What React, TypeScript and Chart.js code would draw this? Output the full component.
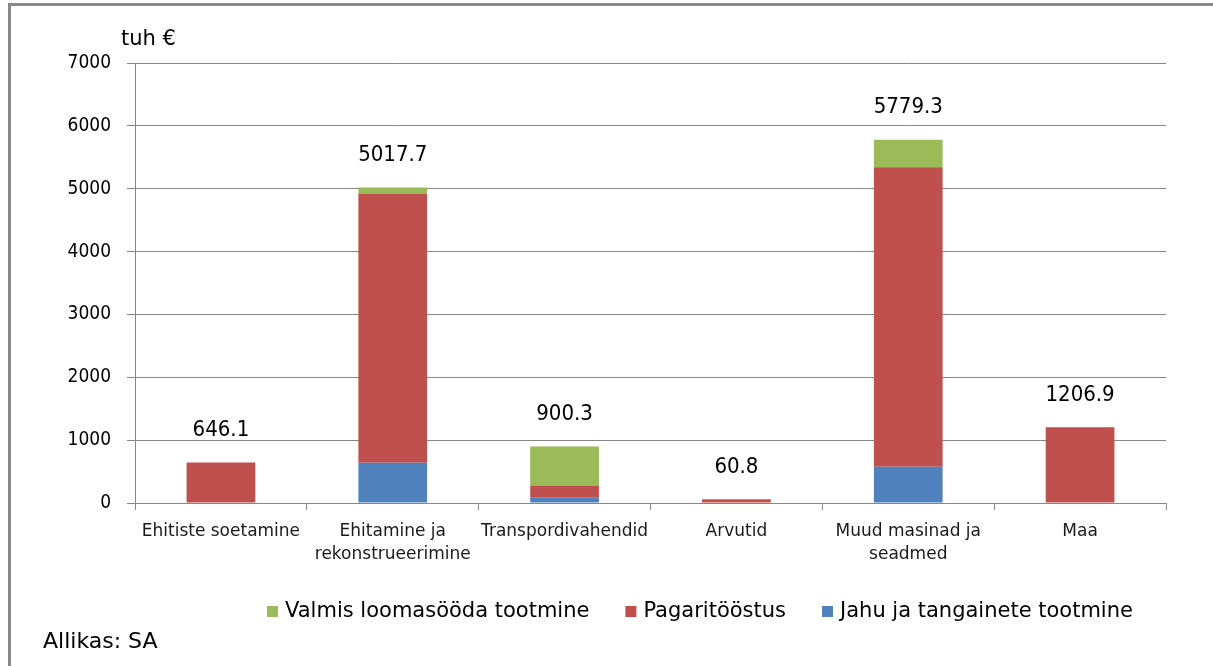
import React, { useEffect, useRef } from "react";
import { Chart, registerables } from "chart.js";

Chart.register(...registerables);

const categories: (string | string[])[] = [
  "Ehitiste soetamine",
  ["Ehitamine ja", "rekonstrueerimine"],
  "Transpordivahendid",
  "Arvutid",
  ["Muud masinad ja", "seadmed"],
  "Maa",
];
const jahuValues = [0, 640, 90, 0, 575, 0];
const pagarValues = [646.1, 4277.5, 188, 60.8, 4765, 1206.9];
const valmisValues = [0, 100.2, 622.3, 0, 439.3, 0];
const yTicks = [0, 1000, 2000, 3000, 4000, 5000, 6000, 7000];

const seriesNames = {
  jahu: "Jahu ja tangainete tootmine",
  pagar: "Pagaritööstus",
  valmis: "Valmis loomasööda tootmine",
};
const unitLabel = "tuh €";
const sourceLabel = "Allikas: SA";

const COLORS = { jahu: "#4F81BD", pagar: "#C0504D", valmis: "#9BBB59" };
const GRID = "#868686";
const FONT = "'DejaVu Sans', Verdana, sans-serif";
const FONT_C = "'DejaVu Sans Condensed', 'DejaVu Sans', sans-serif";

const overlayPlugin = {
  id: "overlay",
  afterDatasetsDraw(chart: any) {
    const ctx = chart.ctx;
    const y = chart.scales.y;
    const meta0 = chart.getDatasetMeta(0);
    ctx.save();
    ctx.fillStyle = "#000";
    ctx.font = `22px ${FONT_C}`;
    ctx.textAlign = "center";
    ctx.textBaseline = "middle";
    for (let i = 0; i < categories.length; i++) {
      const total = jahuValues[i] + pagarValues[i] + valmisValues[i];
      const x = meta0.data[i].x;
      ctx.fillText(total.toFixed(1), x, y.getPixelForValue(total) - 32);
    }
    ctx.restore();
  },
  afterDraw(chart: any) {
    const ctx = chart.ctx;
    ctx.save();
    // frame
    ctx.fillStyle = "#898989";
    ctx.fillRect(8, 3, 1213, 3);
    ctx.fillRect(8, 3, 3, 666);
    // unit label
    ctx.fillStyle = "#000";
    ctx.font = `21px ${FONT}`;
    ctx.textAlign = "left";
    ctx.textBaseline = "middle";
    ctx.fillText(unitLabel, 121, 40);
    // source
    ctx.font = `22px ${FONT}`;
    ctx.fillText(sourceLabel, 43, 642);
    // legend
    const items = [
      { label: chart.data.datasets[2].label, color: chart.data.datasets[2].backgroundColor },
      { label: chart.data.datasets[1].label, color: chart.data.datasets[1].backgroundColor },
      { label: chart.data.datasets[0].label, color: chart.data.datasets[0].backgroundColor },
    ];
    ctx.font = `21px ${FONT}`;
    let x = 267;
    const cy = 611.5;
    for (const it of items) {
      ctx.fillStyle = it.color;
      ctx.fillRect(x, cy - 5.5, 11, 11);
      ctx.fillStyle = "#000";
      ctx.fillText(it.label, x + 18, cy);
      x += 18 + ctx.measureText(it.label).width + 36;
    }
    ctx.restore();
  },
};

export default function App() {
  const ref = useRef<HTMLCanvasElement | null>(null);
  useEffect(() => {
    if (!ref.current) return;
    const chart = new Chart(ref.current, {
      type: "bar",
      data: {
        labels: categories as any,
        datasets: [
          { label: seriesNames.jahu, data: jahuValues, backgroundColor: COLORS.jahu, borderWidth: 0 },
          { label: seriesNames.pagar, data: pagarValues, backgroundColor: COLORS.pagar, borderWidth: 0 },
          { label: seriesNames.valmis, data: valmisValues, backgroundColor: COLORS.valmis, borderWidth: 0 },
        ],
      },
      options: {
        responsive: false,
        animation: false,
        layout: { padding: { top: 63, right: 47, left: 0, bottom: 0 } },
        datasets: { bar: { barPercentage: 0.4, categoryPercentage: 1 } },
        plugins: { legend: { display: false }, tooltip: { enabled: false } },
        scales: {
          x: {
            stacked: true,
            afterFit: (s: any) => {
              s.height = 163;
            },
            grid: {
              display: true,
              drawOnChartArea: false,
              drawTicks: true,
              tickLength: 7,
              color: GRID,
              offset: true,
            },
            border: { display: true, color: GRID, width: 1 },
            ticks: {
              color: "#1a1a1a",
              font: { family: FONT, size: 17, lineHeight: 1.3 },
              padding: 11,
              maxRotation: 0,
              autoSkip: false,
            },
          },
          y: {
            stacked: true,
            min: 0,
            max: 7000,
            afterFit: (s: any) => {
              s.width = 135;
            },
            afterBuildTicks: (s: any) => {
              s.ticks = yTicks.map((v) => ({ value: v }));
            },
            grid: { color: GRID, lineWidth: 1, drawTicks: true, tickLength: 8 },
            border: { display: true, color: GRID, width: 1 },
            ticks: {
              color: "#000",
              font: { family: FONT_C, size: 19 },
              padding: 16,
              callback: (v: any) => String(v),
            },
          },
        },
      },
      plugins: [overlayPlugin],
    });
    return () => chart.destroy();
  }, []);
  return (
    <div style={{ position: "fixed", left: 0, top: 0, width: 1213, height: 666, background: "#fff" }}>
      <canvas ref={ref} width={1213} height={666} style={{ display: "block" }} />
    </div>
  );
}
